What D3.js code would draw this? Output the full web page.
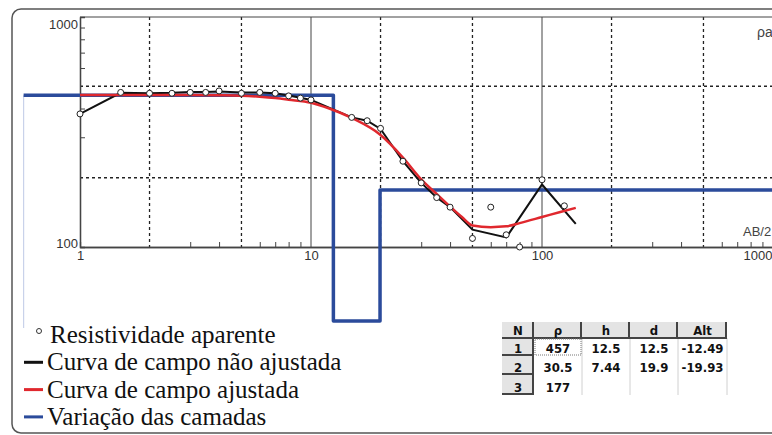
<!DOCTYPE html>
<html>
<head>
<meta charset="utf-8">
<script src="https://cdn.jsdelivr.net/npm/d3@7"></script>
<style>
    body { margin: 0; background: #fff; overflow: hidden; }
    svg { display: block; }
</style>
</head>
<body>
<div id="chart"></div>
<script>
// apparent resistivity sounding: AB/2 (m) vs rho_a (ohm.m)

const obsAB2 = [1, 1.5, 2, 2.5, 3, 3.5, 4, 5, 6, 7, 8, 9, 10, 15, 17.5, 20, 25, 30, 35, 40, 50, 60, 70, 80, 100, 125];
const obsRho = [379, 470, 466, 466, 470, 470, 477, 466, 470, 466, 454, 444, 436, 366, 354, 328, 236, 190, 164, 149, 109, 149, 113, 100, 196, 151];

// field curve (not adjusted)
const fieldAB2 = [1, 1.5, 2, 2.5, 3, 3.5, 4, 5, 6, 7, 8, 9, 10, 15, 17.5, 20, 25, 30, 35, 40, 50, 70, 100, 140];
const fieldRho = [379, 468, 466, 468, 472, 472, 474, 470, 470, 466, 456, 446, 436, 366, 354, 326, 236, 190, 164, 149, 119, 110, 187, 126];

// adjusted curve
const fitAB2 = [1, 2, 3, 4, 5, 6, 7, 8, 10, 12, 15, 20, 25, 30, 35, 40, 45, 50, 60, 70, 80, 100, 120, 140];
const fitRho = [458, 458, 458, 457, 455, 450, 444, 437, 424, 400, 364, 307, 245, 197, 170, 150, 135, 124, 122, 123, 127, 135, 142, 148];

// layer model
const layerN = [1, 2, 3];
const layerRho = [457, 30.5, 177];
const layerH = [12.5, 7.44];
const layerD = [12.5, 19.9];
const layerAlt = [-12.49, -19.93];
const modelStart = 0.57;   // model line starts left of the axis
const modelEnd = 1000;
const rhoFloor = 47.7;     // display floor of the model line

const xMajor = [1, 10, 100, 1000];
const xSolid = [10, 100];
const xDashed = [2, 5, 20, 50, 200, 500];
const xMinor = [3, 4, 6, 7, 8, 9, 30, 40, 60, 70, 80, 90, 300, 400, 600, 700, 800, 900];
const yMajor = [100, 1000];
const yDashed = [200, 500];
const yMinor = [300, 400, 600, 700, 800, 900];

const legendItems = [
    { label: "Resistividade aparente", type: "circle" },
    { label: "Curva de campo não ajustada", type: "line", color: "#111" },
    { label: "Curva de campo ajustada", type: "line", color: "#e0282e" },
    { label: "Variação das camadas", type: "line", color: "#2b4b9b" }
];

const tableHead = ["N", "ρ", "h", "d", "Alt"];

const sansFont = "'Liberation Sans', Arial, sans-serif";
const serifFont = "'Liberation Serif', 'Times New Roman', serif";
const narrowFont = "'DejaVu Sans Condensed', 'Liberation Sans', sans-serif";

const W = 772, H = 435;
const plotL = 80, plotR = 773, plotT = 17, plotB = 247;

const svg = d3.select("#chart").
append("svg").
attr("width", W).
attr("height", H);

// outer frame
svg.append("rect").
attr("x", 12).attr("y", 9).
attr("width", 800).attr("height", 424).
attr("rx", 9).
attr("fill", "#fff").
attr("stroke", "#555").
attr("stroke-width", 1.5);

const xScale = d3.scaleLog().domain([1, 1000]).range([plotL, plotR]);
const yScale = d3.scaleLog().domain([100, 1000]).range([plotB, plotT]);
const yModel = d3.scaleLog().domain([rhoFloor, 1000]).range([yScale(rhoFloor), plotT]).clamp(true);

// grid
const grid = svg.append("g");
grid.selectAll(".gx").
data(xDashed).
enter().
append("line").
attr("x1", d => xScale(d)).attr("x2", d => xScale(d)).
attr("y1", plotT).attr("y2", plotB).
attr("stroke", "#222").
attr("stroke-width", 1.3).
attr("stroke-dasharray", "3,3");

grid.selectAll(".gy").
data(yDashed).
enter().
append("line").
attr("x1", plotL).attr("x2", plotR).
attr("y1", d => yScale(d)).attr("y2", d => yScale(d)).
attr("stroke", "#222").
attr("stroke-width", 1.3).
attr("stroke-dasharray", "3,3");

grid.selectAll(".gs").
data(xSolid).
enter().
append("line").
attr("x1", d => xScale(d)).attr("x2", d => xScale(d)).
attr("y1", plotT).attr("y2", plotB).
attr("stroke", "#444").
attr("stroke-width", 1);

// top border of the plot
svg.append("line").
attr("x1", plotL).attr("x2", plotR).
attr("y1", plotT).attr("y2", plotT).
attr("stroke", "#444");

// axes
const xAxis = svg.append("g").
attr("transform", "translate(0," + plotB + ")");
xAxis.append("g").
call(d3.axisBottom(xScale).tickValues(xMinor).tickSize(-5).tickFormat(""));
xAxis.append("g").
call(d3.axisBottom(xScale).tickValues(xMajor).tickSize(0).tickPadding(4).tickFormat(d3.format("d")));
xAxis.selectAll("path.domain").attr("stroke", "#444").attr("stroke-width", 1.3);
xAxis.selectAll(".tick line").attr("stroke", "#444");
xAxis.selectAll(".tick text").filter(d => d === 1000).attr("text-anchor", "end").attr("x", W - plotR);

const yAxis = svg.append("g").
attr("transform", "translate(" + plotL + ",0)");
yAxis.append("g").
call(d3.axisLeft(yScale).tickValues(yMinor).tickSize(-5).tickFormat(""));
yAxis.append("g").
call(d3.axisLeft(yScale).tickValues(yMajor).tickSize(0).tickPadding(2).tickFormat(d3.format("d")));
yAxis.selectAll("path.domain").attr("stroke", "#444").attr("stroke-width", 1.3);
yAxis.selectAll(".tick line").attr("stroke", "#444");
yAxis.selectAll(".tick text").attr("dy", d => d === 1000 ? "0.9em" : "0em");

svg.selectAll(".tick text").
style("font-family", sansFont).
style("font-size", "13px").
attr("fill", "#333");

// axis titles
svg.append("text").
attr("x", 757).attr("y", 37).
style("font-family", sansFont).
style("font-size", "14px").
attr("fill", "#444").
text("ρa");

svg.append("text").
attr("x", 743).attr("y", 236).
style("font-family", sansFont).
style("font-size", "13px").
attr("fill", "#444").
text("AB/2");

// faint left edge of the model
svg.append("line").
attr("x1", xScale(modelStart)).attr("x2", xScale(modelStart)).
attr("y1", yScale(layerRho[0])).attr("y2", 328).
attr("stroke", "#c9d2ea").
attr("stroke-width", 1.2);

// layer model step line
const stepPts = [[modelStart, layerRho[0]]];
layerD.forEach((d, i) => {
    stepPts.push([d, layerRho[i]]);
    stepPts.push([d, layerRho[i + 1]]);
});
stepPts.push([modelEnd, layerRho[layerRho.length - 1]]);

svg.append("path").
datum(stepPts).
attr("d", d3.line().x(d => xScale(d[0])).y(d => yModel(d[1]))).
attr("fill", "none").
attr("stroke", "#2b4b9b").
attr("stroke-width", 3.5).
attr("stroke-linejoin", "round");

// field curve
svg.append("path").
datum(d3.zip(fieldAB2, fieldRho)).
attr("d", d3.line().x(d => xScale(d[0])).y(d => yScale(d[1]))).
attr("fill", "none").
attr("stroke", "#111").
attr("stroke-width", 2);

// adjusted curve
svg.append("path").
datum(d3.zip(fitAB2, fitRho)).
attr("d", d3.line().curve(d3.curveMonotoneX).x(d => xScale(d[0])).y(d => yScale(d[1]))).
attr("fill", "none").
attr("stroke", "#e0282e").
attr("stroke-width", 2.5);

// observed points
svg.selectAll(".obs").
data(d3.zip(obsAB2, obsRho)).
enter().
append("circle").
attr("cx", d => xScale(d[0])).
attr("cy", d => yScale(d[1])).
attr("r", 3).
attr("fill", "#fff").
attr("stroke", "#222").
attr("stroke-width", 1);

// legend
const legend = svg.selectAll(".legend").
data(legendItems).
enter().
append("g").
attr("transform", (d, i) => "translate(0," + (343 + i * 27.3) + ")");

legend.filter(d => d.type === "circle").
append("circle").
attr("cx", 39).attr("cy", -12).attr("r", 2.5).
attr("fill", "#fff").
attr("stroke", "#333").
attr("stroke-width", 1);

legend.filter(d => d.type === "line").
append("line").
attr("x1", 24).attr("x2", 43).
attr("y1", -8).attr("y2", -8).
attr("stroke", d => d.color).
attr("stroke-width", 3);

legend.append("text").
attr("x", (d, i) => i === 0 ? 50 : 47).
attr("y", 0).
style("font-family", serifFont).
style("font-size", "25px").
attr("fill", "#111").
text(d => d.label);

// results table
const colX = [502, 534, 582, 630, 678, 727];
const rowY = [322, 338, 356, 375, 395];
const rows = layerN.map((n, i) => [
    n,
    layerRho[i],
    layerH[i] !== undefined ? layerH[i] : "",
    layerD[i] !== undefined ? layerD[i] : "",
    layerAlt[i] !== undefined ? layerAlt[i].toFixed(2) : ""
]);

const table = svg.append("g");

// header background
table.append("rect").
attr("x", colX[0]).attr("y", rowY[0]).
attr("width", colX[5] - colX[0]).attr("height", rowY[1] - rowY[0]).
attr("fill", "#e4e4e4");

// N column background
table.append("rect").
attr("x", colX[0]).attr("y", rowY[1]).
attr("width", colX[1] - colX[0]).attr("height", rowY[4] - rowY[1]).
attr("fill", "#e4e4e4");

// body column separators
table.selectAll(".vsep").
data(colX.slice(2, 6)).
enter().
append("line").
attr("x1", d => d).attr("x2", d => d).
attr("y1", rowY[1]).attr("y2", rowY[4]).
attr("stroke", "#d0d0d0");

// header separators
table.selectAll(".hsep").
data(colX.slice(1)).
enter().
append("line").
attr("x1", d => d - 1).attr("x2", d => d - 1).
attr("y1", rowY[0]).attr("y2", rowY[1]).
attr("stroke", "#444").
attr("stroke-width", 2);

table.append("line").
attr("x1", colX[0]).attr("x2", colX[5]).
attr("y1", rowY[1]).attr("y2", rowY[1]).
attr("stroke", "#444").
attr("stroke-width", 2);

// N cells as buttons
table.selectAll(".ncell").
data(rowY.slice(2)).
enter().
append("line").
attr("x1", colX[0]).attr("x2", colX[1]).
attr("y1", d => d - 1).attr("y2", d => d - 1).
attr("stroke", "#444").
attr("stroke-width", 2);

table.append("line").
attr("x1", colX[1] - 1).attr("x2", colX[1] - 1).
attr("y1", rowY[1]).attr("y2", rowY[4]).
attr("stroke", "#444").
attr("stroke-width", 2);

// focus box on first value
table.append("rect").
attr("x", colX[1] + 1).attr("y", rowY[1] + 1).
attr("width", colX[2] - colX[1] - 2).attr("height", rowY[2] - rowY[1] - 2).
attr("fill", "none").
attr("stroke", "#777").
attr("stroke-dasharray", "1,1");

const cellText = (sel, x, y, v) => sel.append("text").
attr("x", x).attr("y", y).
attr("text-anchor", "middle").
style("font-family", narrowFont).
style("font-weight", "bold").
style("font-size", "13px").
attr("fill", "#111").
text(v);

tableHead.forEach((h, j) => {
    cellText(table, (colX[j] + colX[j + 1]) / 2, rowY[1] - 3, h);
});

rows.forEach((r, i) => {
    r.forEach((v, j) => {
        cellText(table, (colX[j] + colX[j + 1]) / 2, rowY[i + 2] - 3, v);
    });
});
</script>
</body>
</html>
